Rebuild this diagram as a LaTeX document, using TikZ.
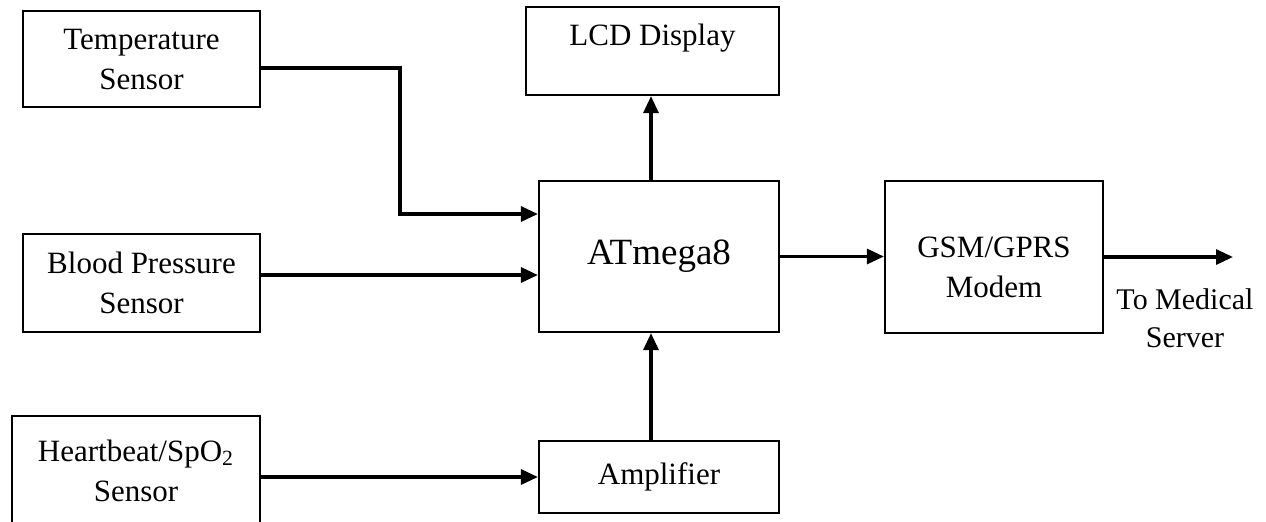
\documentclass[tikz,border=0pt]{standalone}
\usepackage{fontspec}
\setmainfont{Liberation Serif}
\usetikzlibrary{arrows.meta,calc,positioning}
\tikzset{
  box/.style={draw,line width=1.1pt,align=center,inner sep=2pt,font=\fontsize{15.5}{20}\selectfont},
  link/.style={line width=1.6pt,->},
}
\begin{document}
\begin{tikzpicture}[x=0.5pt,y=-0.5pt,>={Triangle[length=8.5pt,width=7.5pt]}]
\useasboundingbox (0,0) rectangle (1266,521);
\node[box,minimum width=118.5pt,minimum height=48pt] (temp) at (141.5,59) {Temperature\\Sensor};
\node[box,minimum width=118.5pt,minimum height=49pt] (bp) at (141.5,283) {Blood Pressure\\Sensor};
\node[box,minimum width=124pt,minimum height=54.5pt] (hb) at (136,470.5) {Heartbeat/SpO\textsubscript{2}\\Sensor};
\node[box,minimum width=126.5pt,minimum height=44pt,
  label={[name=lcdtext,anchor=north,yshift=-5.5pt,font=\fontsize{15.5}{20}\selectfont]north:LCD Display}] (lcd) at (652.5,51) {};
\node[box,minimum width=120pt,minimum height=75.5pt,font=\fontsize{18.5}{22}\selectfont] (mcu) at (659,256.5) {ATmega8};
\node[box,minimum width=120pt,minimum height=36pt] (amp) at (659,477) {Amplifier};
\node[box,minimum width=109pt,minimum height=76pt,
  label={[name=gsmtext,anchor=center,yshift=-5pt,align=center,font=\fontsize{15.5}{20}\selectfont]center:GSM/GPRS\\Modem}] (gsm) at (994,257) {};
\coordinate (srv) at (1233,257);
\node[align=center,font=\fontsize{15}{19}\selectfont] (srvtext) at (1185,318) {To Medical\\Server};
\coordinate (bend) at (400,214);
\draw[link] ([yshift=-4.5pt]temp.east) -| (bend) -- (bend -| mcu.west);
\draw[link] ([yshift=4pt]bp.east) -- ([yshift=4pt]bp.east -| mcu.west);
\draw[link] (amp.west -| hb.east) -- (amp.west);
\draw[link] ([xshift=-4pt]amp.north) -- ([xshift=-4pt]mcu.south);
\draw[link] ([xshift=-4pt]mcu.north) -- ([xshift=-4pt]mcu.north |- lcd.south);
\draw[link] (mcu.east) -- (mcu.east -| gsm.west);
\draw[link] (gsm.east) -- (srv);
\end{tikzpicture}
\end{document}
